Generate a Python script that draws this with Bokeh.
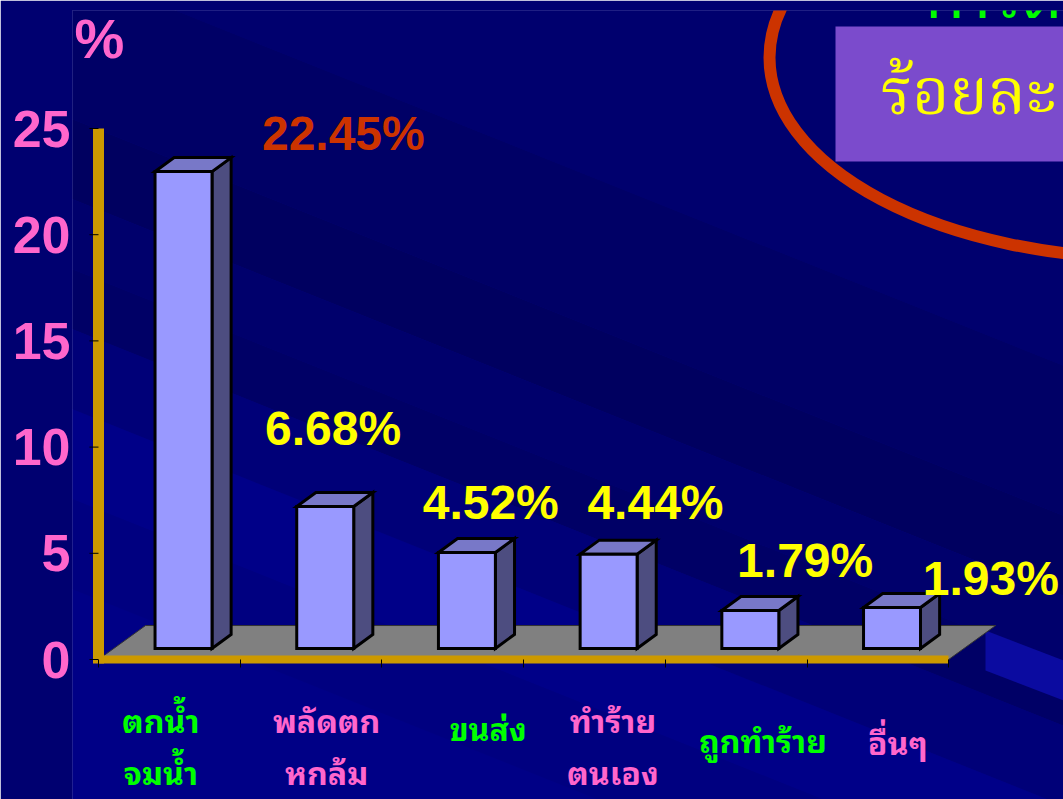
from bokeh.plotting import figure
from bokeh.models import Range1d, FixedTicker
from bokeh.core.properties import value
from bokeh.embed import file_html
from bokeh.resources import INLINE

# ---------------- data ----------------
cat_line1 = ["ตกน้ำ", "พลัดตก", "ขนส่ง", "ทำร้าย", "ถูกทำร้าย", "อื่นๆ"]
cat_line2 = ["จมน้ำ", "หกล้ม", "", "ตนเอง", "", ""]
values = [22.45, 6.68, 4.52, 4.44, 1.79, 1.93]
y_ticks = [0, 5, 10, 15, 20, 25]
unit_label = "%"
box_text = "ร้อยละ"
title_text = "การตาย"

# ---------------- styles / layout ----------------
cat_colors = ["#00FF00", "#FF66CC", "#00FF00", "#FF66CC", "#00FF00", "#FF66CC"]
val_colors = ["#CC3300", "#FFFF00", "#FFFF00", "#FFFF00", "#FFFF00", "#FFFF00"]
val_dx = [174, 22, 38, 61, 69, 113]      # pixel offsets of value labels
val_dy = [-49, -89, -61, -63, -61, -40]
cat_dx = [-0.06, 0.11, 0.25, 0.13, 0.19, 0.14]  # category-label shift (category units)
cat_py = [718, 718, 726, 718, 738, 740]         # page y of first label line

GOLD = "#CC9900"
PINK = "#FF66CC"
NUM_FONT = value("Liberation Sans")
THAI_BOLD = value("Noto Sans Thai Looped")
THAI_SERIF = value("Noto Serif Thai")

W, H = 1063, 799
LEFT, TOP = 72, 10
PX_X = 141.7      # px per category
PX_Y = 21.24      # px per percent
AX_X, AX_Y = 98, 659   # page position of the axes corner


def px2x(px):
    return (px - AX_X) / PX_X - 0.5


def py2y(py):
    return (AX_Y - py) / PX_Y


p = figure(width=W, height=H,
           x_range=Range1d(px2x(LEFT), px2x(W)), y_range=Range1d(py2y(H), py2y(TOP)),
           output_backend="svg", toolbar_location=None, x_axis_location="above",
           min_border_left=LEFT, min_border_right=0, min_border_top=TOP,
           min_border_bottom=0, background_fill_color="#000080",
           border_fill_color="#000070", outline_line_color=None)
p.xgrid.visible = False
p.ygrid.visible = False

# background diagonal bands (decoration)
band_edges = [-600, -60, 90, 170, 240, 300, 380, 470, 560, 1000]
band_cols = ["#00006E", "#000066", "#000060", "#00006C", "#000066", "#000078",
             "#000088", "#000080", "#000086"]
SL = 0.4
bxs, bys = [], []
for c1, c2 in zip(band_edges[:-1], band_edges[1:]):
    bxs.append([px2x(0), px2x(1063), px2x(1063), px2x(0)])
    bys.append([py2y(c1), py2y(c1 + SL * 1063), py2y(c2 + SL * 1063), py2y(c2)])
p.patches(bxs, bys, fill_color=band_cols, line_color=None)
p.patch([px2x(985), px2x(1063), px2x(1063), px2x(985)],
        [py2y(630), py2y(660), py2y(700), py2y(670)], fill_color="#0B0BA0", line_color=None)

# ---------------- 3D geometry (data units) ----------------
n = len(values)
xs = list(range(n))
FL_DX, FL_DY = 0.332, 1.6          # floor depth
B_SHIFT_X, B_SHIFT_Y = 0.10, 0.52  # bar front plane
B_DX, B_DY = 0.135, 0.66           # bar depth
HALF_W = 0.201

p.patch([-0.5, n - 0.5, n - 0.5 + FL_DX, -0.5 + FL_DX],
        [0, 0, FL_DY, FL_DY], fill_color="#808080", line_color="#333333", line_width=1)

left = [x + B_SHIFT_X - HALF_W for x in xs]
right = [x + B_SHIFT_X + HALF_W for x in xs]
base = B_SHIFT_Y
tops = [base + v for v in values]

side_xs = [[r, r + B_DX, r + B_DX, r] for r in right]
side_ys = [[base, base + B_DY, t + B_DY, t] for t in tops]
top_xs = [[l, r, r + B_DX, l + B_DX] for l, r in zip(left, right)]
top_ys = [[t, t, t + B_DY, t + B_DY] for t in tops]

p.patches(side_xs, side_ys, fill_color="#4D4D80", line_color="black", line_width=3,
          line_join="miter")
p.patches(top_xs, top_ys, fill_color="#7878C8", line_color="black", line_width=3,
          line_join="miter")
p.quad(left=left, right=right, bottom=base, top=tops, fill_color="#9999FF",
       line_color="black", line_width=3, line_join="miter")

# value labels
p.text(x=xs, y=values, text=[f"{v:.2f}%" for v in values], text_color=val_colors,
       x_offset=val_dx, y_offset=val_dy,
       text_font=NUM_FONT, text_font_style="bold", text_font_size="48px",
       text_align="center", text_baseline="middle")

# ---------------- value axis ----------------
# gold wall edge and its ticks at the category origin
p.segment(x0=[-0.5], y0=[py2y(663)], x1=[-0.5], y1=[y_ticks[-1]],
          line_color=GOLD, line_width=11)
p.segment(x0=px2x(89), y0=y_ticks, x1=px2x(98), y1=y_ticks,
          line_color="black", line_width=1)

yax = p.yaxis[0]
yax.ticker = FixedTicker(ticks=y_ticks)
yax.axis_line_color = None
yax.major_tick_line_color = None
yax.major_tick_out = 0
yax.major_tick_in = 0
yax.minor_tick_line_color = None
yax.major_label_text_color = PINK
yax.major_label_text_font = "Liberation Sans"
yax.major_label_text_font_style = "bold"
yax.major_label_text_font_size = "52px"
yax.major_label_standoff = 2

# ---------------- category axis ----------------
bounds_ticks = [i - 0.5 for i in range(n + 1)]
xax = p.xaxis[0]
xax.fixed_location = 0
xax.ticker = FixedTicker(ticks=bounds_ticks)
xax.bounds = (-0.5, n - 0.5)
xax.axis_line_color = GOLD
xax.axis_line_width = 8
xax.major_tick_line_color = "black"
xax.major_tick_out = 0
xax.major_tick_in = 8
xax.minor_tick_line_color = None
xax.major_label_standoff = 0
xax.major_label_text_font_size = "1px"
xax.major_label_overrides = {t: "" for t in bounds_ticks}

# category labels below the axis
rows_x, rows_y, rows_t, rows_c = [], [], [], []
for i in range(n):
    rows_x.append(xs[i] + cat_dx[i])
    rows_y.append(py2y(cat_py[i]))
    rows_t.append(cat_line1[i])
    rows_c.append(cat_colors[i])
    if cat_line2[i]:
        rows_x.append(xs[i] + cat_dx[i])
        rows_y.append(py2y(cat_py[i] + 52))
        rows_t.append(cat_line2[i])
        rows_c.append(cat_colors[i])
p.text(x=rows_x, y=rows_y, text=rows_t, text_color=rows_c,
       text_font=THAI_BOLD, text_font_style="bold", text_font_size="32px",
       text_align="center", text_baseline="middle")

# "%" unit label
p.text(x=[px2x(99)], y=[py2y(38)], text=[unit_label], text_color=PINK,
       text_font=NUM_FONT, text_font_style="bold", text_font_size="56px",
       text_align="center", text_baseline="middle")

# ---------------- top-right decoration ----------------
p.ellipse(x=[px2x(1150)], y=[py2y(57)], width=[762 / PX_X], height=[402 / PX_Y],
          fill_color=None, line_color="#CC3300", line_width=12)
p.quad(left=[px2x(835)], right=[px2x(1080)], bottom=[py2y(161)], top=[py2y(26)],
       fill_color="#7B4BCC", line_color=None)
p.text(x=[px2x(880)], y=[py2y(96)], text=[box_text], text_color="#FFFF00",
       text_font=THAI_SERIF, text_font_size="64px", text_align="left",
       text_baseline="middle")
# slide title: only the lower edge of its glyphs shows at the top of the picture
p.text(x=[px2x(925)], y=[py2y(-12)], text=[title_text], text_color="#00FF00",
       text_font=THAI_BOLD, text_font_size="64px", text_align="left",
       text_baseline="alphabetic")

open("out.html", "w").write(file_html(p, INLINE))
